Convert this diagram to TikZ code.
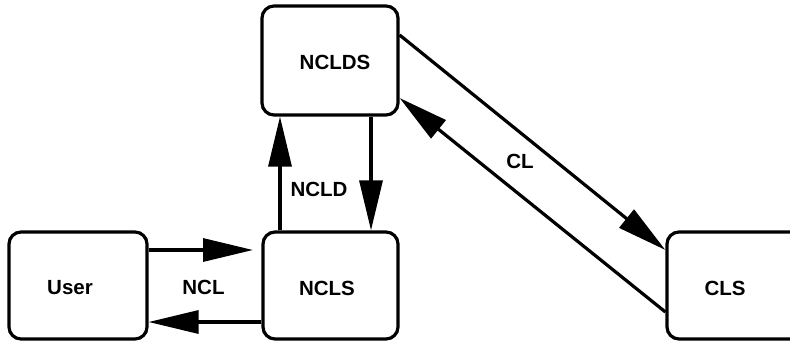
\documentclass[tikz,border=0pt]{standalone}
\usepackage{fontspec}
\setmainfont{Liberation Sans}
\usetikzlibrary{arrows.meta}
\begin{document}
\begin{tikzpicture}[x=1pt,y=-1pt,
  box/.style={draw, line width=3.2pt, rounded corners=12pt, inner sep=0pt},
  lbl/.style={inner sep=0pt, font=\fontsize{20.5}{24}\selectfont\bfseries},
  arr/.style={line width=3.2pt, -{Triangle[length=50pt,width=23pt]}}]
\useasboundingbox (0,0) rectangle (790,343);
\clip (0,0) rectangle (790,343);
% boxes
\node[box, minimum width=138pt, minimum height=107pt] (user)  at (78,285.5) {};
\node[box, minimum width=135pt, minimum height=107pt] (ncls)  at (330.5,285.5) {};
\node[box, minimum width=136pt, minimum height=109pt] (nclds) at (330,60.5) {};
\node[box, minimum width=140pt, minimum height=107pt] (cls)   at (737,285.5) {};
% box texts
\node[lbl] (tuser)  at (70,288)  {User};
\node[lbl] (tncls)  at (327,288) {NCLS};
\node[lbl] (tnclds) at (335,62)  {NCLDS};
\node[lbl] (tcls)   at (725,288) {CLS};
% connector labels
\node[lbl] (tncl)  at (203.5,287) {NCL};
\node[lbl] (tncld) at (319,189)   {NCLD};
\node[lbl] (tcl)   at (520,161.5) {CL};
% helper coordinates
\coordinate (ya) at (0,250);
\coordinate (yb) at (0,322);
\coordinate (xa) at (280,0);
\coordinate (xb) at (371,0);
\coordinate (uend) at (253,250);
\coordinate (yc) at (0,35);
\coordinate (yd) at (0,250);
\coordinate (ye) at (0,312);
\coordinate (yf) at (0,98);
% connectors
\draw[arr] (user.east |- ya) -- (uend);
\draw[arr] (ncls.west |- yb) -- (user.east |- yb);
\draw[arr] (ncls.north -| xa) -- (nclds.south -| xa);
\draw[arr] (nclds.south -| xb) -- (ncls.north -| xb);
\draw[arr] (nclds.east |- yc) -- (cls.west |- yd);
\draw[arr] (cls.west |- ye) -- (nclds.east |- yf);
\end{tikzpicture}
\end{document}
